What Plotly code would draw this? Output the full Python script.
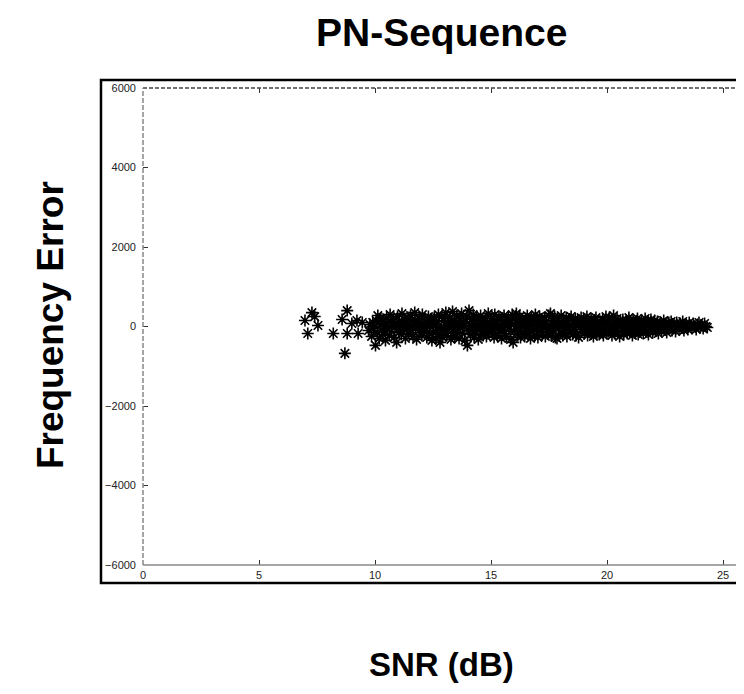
import plotly.graph_objects as go

# sparse low-SNR estimates
snr_low = [6.98, 7.28, 7.1, 7.54, 7.4, 8.2, 8.58, 8.8, 8.8, 9.22, 9.27, 8.7, 9.0, 9.45]
err_low = [150, 350, -175, 25, 250, -175, 175, 400, -175, 150, -175, -675, 75, 100]

snr_a = [9.72, 9.78, 9.85, 9.9, 9.93, 9.98, 10.02, 10.05, 10.1, 10.12,
         10.18, 10.22, 10.25, 10.3, 10.34, 10.37, 10.41, 10.45, 10.5, 10.52,
         10.58, 10.61, 10.65, 10.7, 10.73, 10.78, 10.82, 10.86, 10.9, 10.93,
         10.97, 11.02, 11.05, 11.08, 11.13, 11.16, 11.2, 11.24, 11.27, 11.31,
         11.35, 11.38, 11.42, 11.46, 11.5, 11.53, 11.57, 11.6, 11.64, 11.68,
         11.71, 11.75, 11.79, 11.82, 11.86, 11.9, 11.93, 11.97, 12.01, 12.04,
         12.08, 12.12, 12.15, 12.19, 12.23, 12.26, 12.3, 12.34, 12.37, 12.41,
         12.45, 12.48]
err_a = [-100, 50, -250, 100, -50, 0, -475, 150, -150, 275,
         -300, 50, 200, -100, -200, 125, 0, -350, 225, -50,
         100, -225, 300, -125, 25, 175, -275, -25, 75, -400,
         250, -150, 125, 0, -200, 325, 50, -75, 175, -300,
         100, -25, 225, -175, 0, 275, -100, 150, -250, 50,
         350, -50, -325, 125, 25, 200, -150, 75, -225, 300,
         0, -100, 175, -50, -275, 100, 250, -175, 25, 150,
         -350, 75]

snr_b = [12.52, 12.55, 12.59, 12.63, 12.66, 12.7, 12.73, 12.77, 12.8, 12.84,
         12.88, 12.91, 12.95, 12.98, 13.02, 13.05, 13.09, 13.12, 13.16, 13.2,
         13.23, 13.27, 13.3, 13.34, 13.37, 13.41, 13.44, 13.48, 13.52, 13.55,
         13.59, 13.62, 13.66, 13.69, 13.73, 13.77, 13.8, 13.84, 13.87, 13.91,
         13.95, 13.98, 14.02, 14.05, 14.09, 14.12, 14.16, 14.2, 14.23, 14.27,
         14.3, 14.34, 14.37, 14.41, 14.45, 14.48, 14.52, 14.55, 14.59, 14.63,
         14.66, 14.7, 14.73, 14.77, 14.8, 14.84, 14.88, 14.91, 14.95, 14.98]
err_b = [-150, 225, 50, -300, 125, -25, 300, -200, -400, -100,
         250, -275, 0, 150, -50, 350, -225, 100, -125, 25,
         200, -325, 75, 375, -75, 150, -250, 0, 275, -150,
         50, -300, 200, -25, 325, -175, 100, 0, -350, 125,
         250, -475, -100, 400, 25, -200, 175, -50, 300, -275,
         75, -125, 225, 0, -325, 150, -75, 275, -200, 50,
         -225, 125, -25, 200, -250, 100, 325, -150, 25, -75]

snr_c = [15.02, 15.06, 15.09, 15.13, 15.16, 15.2, 15.24, 15.27, 15.31, 15.34,
         15.38, 15.41, 15.45, 15.49, 15.52, 15.56, 15.59, 15.63, 15.66, 15.7,
         15.74, 15.77, 15.81, 15.84, 15.88, 15.91, 15.95, 15.99, 16.02, 16.06,
         16.09, 16.13, 16.16, 16.2, 16.24, 16.27, 16.31, 16.34, 16.38, 16.41,
         16.45, 16.49, 16.52, 16.56, 16.59, 16.63, 16.66, 16.7, 16.74, 16.77,
         16.81, 16.84, 16.88, 16.91, 16.95, 16.99, 17.02, 17.06, 17.09, 17.13,
         17.16, 17.2, 17.24, 17.27, 17.31, 17.34, 17.38, 17.41, 17.45, 17.49,
         17.52, 17.56, 17.59, 17.63, 17.66, 17.7, 17.74, 17.77, 17.81, 17.84,
         17.88, 17.91, 17.95, 17.99, 18.02, 18.06, 18.09, 18.13, 18.16, 18.2,
         18.24, 18.27, 18.31, 18.34, 18.38, 18.41, 18.45, 18.49, 18.52, 18.56,
         18.59, 18.63, 18.66, 18.7, 18.74, 18.77, 18.81, 18.84, 18.88, 18.91,
         18.95, 18.99, 19.02, 19.06, 19.09, 19.13, 19.16, 19.2, 19.24, 19.27,
         19.31, 19.34, 19.38, 19.41, 19.45, 19.49, 19.52, 19.56, 19.59, 19.63,
         19.66, 19.7, 19.74, 19.77, 19.81, 19.84, 19.88, 19.91, 19.95, 19.99]
err_c = [200, -150, 50, -275, 300, -50, 125, -225, 0, 250,
         -100, 175, -300, 75, -25, 275, -175, 100, -250, 25,
         225, -75, 150, -325, 50, 300, -400, -125, 200, 0,
         325, -200, 100, -50, 250, -275, 25, 175, -150, 75,
         -250, 200, -25, 275, -175, 125, 0, -300, 225, -100,
         50, 150, -225, 300, -50, 100, -275, 25, 250, -125,
         175, -200, 75, -25, 225, -250, 125, 0, -150, 275,
         -75, 325, -225, 50, 150, -100, 250, -275, 25, -300,
         200, -50, 100, -175, 275, 0, -225, 150, -100, 50,
         225, -250, 75, -25, 175, -150, 250, 0, -200, 125,
         -75, 200, -225, 50, 150, -275, 100, -25, 225, -125,
         25, 175, -175, 75, -50, 250, -225, 125, 0, -100,
         200, -150, 50, -250, 150, -25, 225, -175, 100, 0,
         -200, 125, 25, -125, 175, -225, 75, -50, 250, -150]

snr_d = [20.02, 20.06, 20.1, 20.13, 20.17, 20.21, 20.24, 20.28, 20.32, 20.35,
         20.39, 20.43, 20.46, 20.5, 20.54, 20.57, 20.61, 20.65, 20.68, 20.72,
         20.76, 20.79, 20.83, 20.87, 20.9, 20.94, 20.98, 21.01, 21.05, 21.09,
         21.12, 21.16, 21.2, 21.23, 21.27, 21.31, 21.34, 21.38, 21.42, 21.45,
         21.49, 21.53, 21.56, 21.6, 21.64, 21.67, 21.71, 21.75, 21.78, 21.82,
         21.86, 21.89, 21.93, 21.97, 22.01, 22.05, 22.09, 22.13, 22.17, 22.21,
         22.26, 22.3, 22.35, 22.39, 22.44, 22.48, 22.53, 22.57, 22.62, 22.66,
         22.71, 22.76, 22.8, 22.85, 22.9, 22.95, 23.0, 23.05, 23.1, 23.15,
         23.2, 23.26, 23.31, 23.37, 23.42, 23.48, 23.54, 23.6, 23.66, 23.72,
         23.78, 23.84, 23.9, 23.96, 24.02, 24.08, 24.14, 24.2, 24.26, 24.32]
err_d = [150, -125, 225, -50, 75, -225, 0, 275, -175, 100,
         -25, 200, -150, 50, -250, 125, 25, -100, 175, -200,
         75, -50, 150, -175, 0, 225, -125, 100, -25, -225,
         175, 50, -150, 125, -75, 200, -200, 25, 100, -100,
         150, -25, -175, 75, 200, -125, 0, 125, -200, 50,
         -75, 175, 100, -150, 25, 150, -100, -25, 125, -175,
         50, 100, -125, 0, 150, -75, 75, -150, 25, 100,
         -50, 125, -100, 50, 0, -125, 100, 25, -75, 75,
         -25, 125, -100, 50, 0, -75, 100, 25, -50, 75,
         0, -75, 50, 100, -25, 25, -50, 75, 0, -25]

x_ticks = [0, 5, 10, 15, 20, 25]
y_ticks = [-6000, -4000, -2000, 0, 2000, 4000, 6000]

snr = snr_low + snr_a + snr_b + snr_c + snr_d
err = err_low + err_a + err_b + err_c + err_d

fam = "Liberation Sans, Arial, sans-serif"
small = dict(family=fam, size=11, color="#222")

fig = go.Figure()
fig.add_trace(go.Scatter(x=snr, y=err, mode="markers",
                         marker=dict(symbol="asterisk-open", size=10, color="black",
                                     line=dict(color="black", width=1.6))))

fig.update_xaxes(range=[0, 25.9], tickvals=x_ticks, ticks="inside", ticklen=5,
                 tickcolor="#333", mirror="ticks", showline=False, showgrid=False,
                 zeroline=False, tickfont=small, ticklabelstandoff=2)
fig.update_yaxes(range=[-6000, 6000], tickvals=y_ticks, ticks="inside", ticklen=5,
                 tickcolor="#333", mirror="ticks", showline=False, showgrid=False,
                 zeroline=False, tickfont=small, ticklabelstandoff=6)

# axis lines (dashed top/left like the original print)
fig.add_shape(type="line", xref="paper", yref="paper", x0=0, x1=1, y0=0, y1=0,
              line=dict(color="#888", width=1.5))
fig.add_shape(type="line", xref="paper", yref="paper", x0=0, x1=1, y0=1, y1=1,
              line=dict(color="#444", width=1.5, dash="4px,2px"))
fig.add_shape(type="line", xref="paper", yref="paper", x0=0, x1=0, y0=0, y1=1,
              line=dict(color="#888", width=1.5, dash="5px,2px"))
# outer black frame
fig.add_shape(type="rect", xref="paper", yref="paper", x0=-0.0699, x1=1.2,
              y0=-0.0377, y1=1.0168, line=dict(color="black", width=2.5))

fig.add_annotation(text="<b>PN-Sequence</b>", xref="paper", yref="paper", x=0.496, y=1.117,
                   showarrow=False, font=dict(family=fam, size=39, color="black"),
                   xanchor="center", yanchor="middle")
fig.add_annotation(text="<b>SNR (dB)</b>", xref="paper", yref="paper", x=0.496, y=-0.2096,
                   showarrow=False, font=dict(family=fam, size=33, color="black"),
                   xanchor="center", yanchor="middle")
fig.add_annotation(text="<b>Frequency Error</b>", xref="paper", yref="paper", x=-0.1547, y=0.503,
                   showarrow=False, font=dict(family=fam, size=37, color="black"),
                   textangle=-90, xanchor="center", yanchor="middle")

fig.update_layout(width=736, height=686, margin=dict(l=135, r=0, t=80, b=129),
                  plot_bgcolor="white", paper_bgcolor="white", showlegend=False)

fig.write_html("out.html")
